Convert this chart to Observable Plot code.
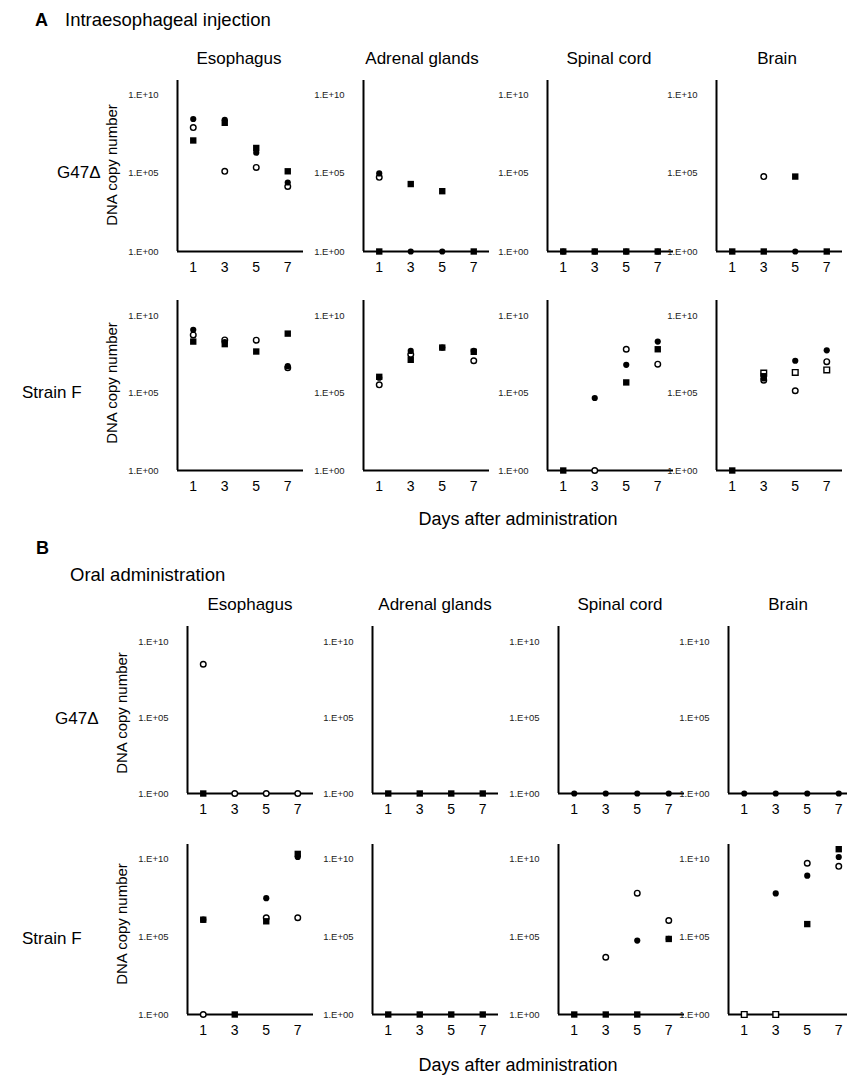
<!DOCTYPE html>
<html><head><meta charset="utf-8">
<script src="https://cdn.jsdelivr.net/npm/d3@7"></script>
<script src="https://cdn.jsdelivr.net/npm/@observablehq/plot@0.6"></script>
<style>
body{margin:0;background:#fff;}
#chart{position:relative;width:847px;height:1075px;background:#fff;font-family:"Liberation Sans",Arial,Helvetica,sans-serif;color:#000;overflow:hidden}
.t{position:absolute;white-space:nowrap;line-height:1}
.panel{position:absolute}
.panel svg{max-width:none !important;display:block}
</style></head><body><div id="chart"></div>
<script>
// ---------- data ----------
const days = [1, 3, 5, 7];
const tissues = ["Esophagus", "Adrenal glands", "Spinal cord", "Brain"];
const strains = ["G47Δ", "Strain F"];
const sections = ["Intraesophageal injection", "Oral administration"];
const yTicks = [1, 1e5, 1e10];
const yTickLabels = ["1.E+00", "1.E+05", "1.E+10"];
// rows of each panel: filled circle, open circle, filled square, open square; columns: days 1,3,5,7 (null = not shown)
const markerTypes = ["filledCircle", "openCircle", "filledSquare", "openSquare"];

// A: intraesophageal injection, G47Δ
const aG47Esophagus = [[2.8e8, 2.5e8, 2e6, 2.5e4], [8e7, 1.3e5, 2.3e5, 1.4e4], [1.2e7, 1.6e8, 4e6, 1.3e5], [null, null, null, null]];
const aG47Adrenal   = [[9.5e4, 1, 1, null], [5.4e4, null, null, null], [1, 2e4, 7e3, 1], [null, null, null, null]];
const aG47Spinal    = [[1, 1, 1, 1], [null, null, null, null], [1, 1, 1, 1], [null, null, null, null]];
const aG47Brain     = [[null, null, 1, null], [null, 6e4, null, null], [1, 1, 6e4, 1], [null, null, null, null]];
// A: intraesophageal injection, Strain F
const aFEsophagus = [[1.26e9, 2e8, null, 5.6e6], [5.9e8, 2.8e8, 2.7e8, 4.5e6], [2.2e8, 1.5e8, 5e7, 7.2e8], [null, null, null, null]];
const aFAdrenal   = [[1e6, 5.5e7, 9e7, 5.5e7], [3.5e5, 3.2e7, null, 1.26e7], [1.15e6, 1.45e7, 9e7, 4.8e7], [null, null, null, null]];
const aFSpinal    = [[null, 4.9e4, 6.9e6, 2.2e8], [null, 1, 7e7, 7.6e6], [1, null, 5e5, 7e7], [null, null, null, null]];
const aFBrain     = [[null, 9e5, 1.26e7, 6e7], [null, 7e5, 1.45e5, 1.1e7], [1, 1.26e6, null, null], [null, 2e6, 2.2e6, 3.2e6]];
// B: oral administration, G47Δ
const bG47Esophagus = [[null, null, null, null], [3.5e8, 1, 1, 1], [1, null, null, null], [null, null, null, null]];
const bG47Adrenal   = [[null, null, null, null], [null, null, null, null], [1, 1, 1, 1], [null, null, null, null]];
const bG47Spinal    = [[1, 1, 1, 1], [null, null, null, null], [null, null, null, null], [null, null, null, null]];
const bG47Brain     = [[1, 1, 1, 1], [null, null, null, null], [null, null, null, null], [null, null, null, null]];
// B: oral administration, Strain F
const bFEsophagus = [[1.2e6, null, 2.9e7, 1.26e10], [1, null, 1.6e6, 1.6e6], [1.2e6, 1, 9.5e5, 2e10], [null, null, null, null]];
const bFAdrenal   = [[null, null, null, null], [null, null, null, null], [1, 1, 1, 1], [null, null, null, null]];
const bFSpinal    = [[null, null, 5.5e4, 7e4], [null, 4.7e3, 6e7, 1.07e6], [1, 1, 1, 7e4], [null, null, null, null]];
const bFBrain     = [[null, 5.8e7, 8e8, 1.26e10], [null, null, 5e9, 3.2e9], [null, null, 6.3e5, 4e10], [1, 1, null, null]];

const panelGrid = [
  [aG47Esophagus, aG47Adrenal, aG47Spinal, aG47Brain],
  [aFEsophagus, aFAdrenal, aFSpinal, aFBrain],
  [bG47Esophagus, bG47Adrenal, bG47Spinal, bG47Brain],
  [bFEsophagus, bFAdrenal, bFSpinal, bFBrain]
];

// ---------- layout ----------
const FONT = '"Liberation Sans", Arial, Helvetica, sans-serif';
const chart = document.getElementById("chart");
const rowBox = [{top: 80, bottom: 251, ymax: 8e10}, {top: 300, bottom: 470, ymax: 1e11}, {top: 626, bottom: 793, ymax: 1.1e11}, {top: 844, bottom: 1014, ymax: 8e10}];
const colAxisX = [[177, 363, 547, 716], [187, 372, 558, 728]];
const axisLen = 126, ML = 60, MR = 6, MT = 6, MB = 30;

function panelData(vals) {
  const out = [];
  vals.forEach((row, i) => row.forEach((v, j) => { if (v != null) out.push({day: days[j], value: v, type: markerTypes[i]}); }));
  return out;
}

function makePanel(vals, ymax, h) {
  const data = panelData(vals);
  const of = t => data.filter(d => d.type === t);
  return Plot.plot({
    width: ML + axisLen + MR, height: MT + h + MB,
    marginLeft: ML, marginRight: MR, marginTop: MT, marginBottom: MB,
    style: {fontFamily: FONT, background: "transparent", overflow: "visible"},
    x: {type: "linear", domain: [0, 8], axis: null},
    y: {type: "log", domain: [1, ymax], axis: null},
    marks: [
      Plot.axisX({ticks: days, tickSize: 0, tickPadding: 11, fontSize: 14, tickFormat: d => String(d), label: null}),
      Plot.axisY({ticks: yTicks, tickSize: 0, tickPadding: 19, fontSize: 9.5, fill: "#222", tickFormat: d => yTickLabels[yTicks.indexOf(d)], label: null}),
      Plot.ruleX([0], {stroke: "#000", strokeWidth: 2}),
      Plot.ruleY([1], {stroke: "#000", strokeWidth: 2}),
      Plot.dot(of("openCircle"), {x: "day", y: "value", r: 2.8, fill: "#fff", stroke: "#000", strokeWidth: 1.4}),
      Plot.dot(of("filledCircle"), {x: "day", y: "value", r: 3.1, fill: "#000", stroke: "none"}),
      Plot.dot(of("openSquare"), {x: "day", y: "value", symbol: "square", r: 3.2, fill: "#fff", stroke: "#000", strokeWidth: 1.4}),
      Plot.dot(of("filledSquare"), {x: "day", y: "value", symbol: "square", r: 3.6, fill: "#000", stroke: "none"})
    ]
  });
}

panelGrid.forEach((row, ri) => {
  const box = rowBox[ri];
  const h = box.bottom - box.top;
  row.forEach((vals, ci) => {
    const ax = colAxisX[ri < 2 ? 0 : 1][ci];
    const svg = makePanel(vals, box.ymax, h);
    const wrap = document.createElement("div");
    wrap.className = "panel";
    wrap.style.left = (ax - ML) + "px";
    wrap.style.top = (box.top - MT) + "px";
    wrap.style.width = (ML + axisLen + MR) + "px";
    wrap.appendChild(svg);
    chart.appendChild(wrap);
  });
});

// ---------- text ----------
function addText(txt, x, cy, size, opt = {}) {
  const d = document.createElement("div");
  d.className = "t";
  d.textContent = txt;
  d.style.fontSize = size + "px";
  d.style.left = x + "px";
  d.style.top = cy + "px";
  if (opt.bold) d.style.fontWeight = "bold";
  let tr = opt.anchor === "middle" ? "translate(-50%,-50%)" : "translate(0,-50%)";
  if (opt.rotate) tr = "translate(-50%,-50%) rotate(-90deg)";
  d.style.transform = tr;
  chart.appendChild(d);
}

addText("A", 35, 20, 18, {bold: true});
addText(sections[0], 65, 20, 18.5);
addText("B", 36, 548, 18, {bold: true});
addText(sections[1], 70, 575, 18.5);

const headerA = [239, 422, 609, 777], headerB = [250, 435, 620, 788];
tissues.forEach((t, i) => { addText(t, headerA[i], 58, 17, {anchor: "middle"}); addText(t, headerB[i], 604, 17, {anchor: "middle"}); });

addText(strains[0], 57, 172, 17);
addText(strains[1], 22, 392, 17);
addText(strains[0], 55, 718, 17);
addText(strains[1], 22, 938, 17);

addText("DNA copy number", 111, 165, 15, {rotate: true});
addText("DNA copy number", 111, 383, 15, {rotate: true});
addText("DNA copy number", 121, 713, 15, {rotate: true});
addText("DNA copy number", 121, 924, 15, {rotate: true});

addText("Days after administration", 518, 519, 18, {anchor: "middle"});
addText("Days after administration", 518, 1065, 18, {anchor: "middle"});
</script></body></html>
